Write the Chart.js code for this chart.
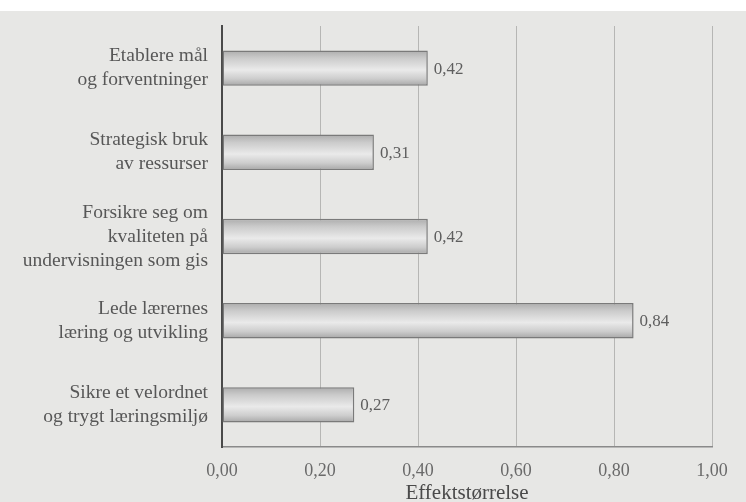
<!DOCTYPE html>
<html lang="no">
<head>
<meta charset="utf-8">
<title>Effektstørrelse</title>
<script src="https://cdn.jsdelivr.net/npm/chart.js@4.4.1/dist/chart.umd.min.js"></script>
<style>
  html, body { margin: 0; padding: 0; background: #ffffff; }
  #wrap { position: relative; width: 746px; height: 502px; }
</style>
</head>
<body>
<div id="wrap"><canvas id="c" width="746" height="502"></canvas></div>
<script>
// Ledelsesdimensjoner og effektstørrelser
const categories = [
  ["Etablere mål", "og forventninger"],
  ["Strategisk bruk", "av ressurser"],
  ["Forsikre seg om", "kvaliteten på", "undervisningen som gis"],
  ["Lede lærernes", "læring og utvikling"],
  ["Sikre et velordnet", "og trygt læringsmiljø"]
];
const effectSizes = [0.42, 0.31, 0.42, 0.84, 0.27];
const xTicks = [0, 0.2, 0.4, 0.6, 0.8, 1.0];
const axisTitle = "Effektstørrelse";

const SERIF = "'Liberation Serif', 'DejaVu Serif', serif";
const fmt = v => v.toFixed(2).replace('.', ',');

// Grå papirbakgrunn under hele figuren
const paperBg = {
  id: 'paperBg',
  beforeDraw(chart) {
    const { ctx, width, height } = chart;
    ctx.save();
    ctx.fillStyle = '#e7e7e5';
    ctx.fillRect(0, 11, width, height - 11);
    ctx.restore();
  }
};

// Verditekst til høyre for hver stolpe
const valueLabels = {
  id: 'valueLabels',
  afterDatasetsDraw(chart) {
    const { ctx } = chart;
    const meta = chart.getDatasetMeta(0);
    ctx.save();
    ctx.font = "17px " + SERIF;
    ctx.fillStyle = '#5e5e5e';
    ctx.textAlign = 'left';
    ctx.textBaseline = 'middle';
    meta.data.forEach((bar, i) => {
      ctx.fillText(fmt(effectSizes[i]), bar.x + 6, bar.y + 1);
    });
    ctx.restore();
  }
};

const BAR_PCT = 0.42;

// Sylinderlignende skygge på stolpene
function barFill(context) {
  const chart = context.chart;
  const y = chart.scales.y;
  if (!y || !chart.chartArea) return '#cfcfcf';
  const center = y.getPixelForValue(context.dataIndex);
  const h = (y.height / categories.length) * BAR_PCT;
  const g = chart.ctx.createLinearGradient(0, center - h / 2, 0, center + h / 2);
  g.addColorStop(0.0, '#acacac');
  g.addColorStop(0.22, '#cbcbcb');
  g.addColorStop(0.55, '#eaeaea');
  g.addColorStop(0.8, '#cdcdcd');
  g.addColorStop(1.0, '#a6a6a6');
  return g;
}

new Chart(document.getElementById('c'), {
  type: 'bar',
  data: {
    labels: categories,
    datasets: [{
      data: effectSizes,
      backgroundColor: barFill,
      borderColor: '#7a7a7a',
      borderWidth: 1.5,
      borderSkipped: false,
      barPercentage: BAR_PCT,
      categoryPercentage: 1.0
    }]
  },
  options: {
    indexAxis: 'y',
    responsive: false,
    animation: false,
    devicePixelRatio: 1,
    layout: { padding: { top: 26, right: 34, bottom: 0, left: 0 } },
    plugins: {
      legend: { display: false },
      tooltip: { enabled: false }
    },
    scales: {
      x: {
        min: 0,
        max: 1,
        afterBuildTicks(scale) {
          scale.ticks = xTicks.map(v => ({ value: v }));
        },
        afterFit(scale) { scale.height = 55; },
        grid: {
          color: '#b6b6b4',
          lineWidth: 1,
          drawTicks: false
        },
        border: { color: '#8a8a8a', width: 1.5 },
        ticks: {
          padding: 13,
          color: '#6a6a6a',
          font: { family: SERIF, size: 18 },
          callback: v => fmt(v)
        },
        title: {
          display: true,
          text: axisTitle,
          color: '#4a4a4a',
          font: { family: SERIF, size: 21, lineHeight: 0.8 },
          padding: { top: 0, bottom: 0 }
        }
      },
      y: {
        afterFit(scale) {
          scale.width = 222;
          // kategoritekstene får gå utenfor plottområdet
          scale.paddingTop = 0;
          scale.paddingBottom = 0;
        },
        grid: { display: false, drawTicks: false },
        border: { color: '#4a4a4a', width: 2 },
        ticks: {
          padding: 14,
          color: '#575757',
          font: { family: SERIF, size: 19.5, lineHeight: 1.23 }
        }
      }
    }
  },
  plugins: [paperBg, valueLabels]
});
</script>
</body>
</html>
